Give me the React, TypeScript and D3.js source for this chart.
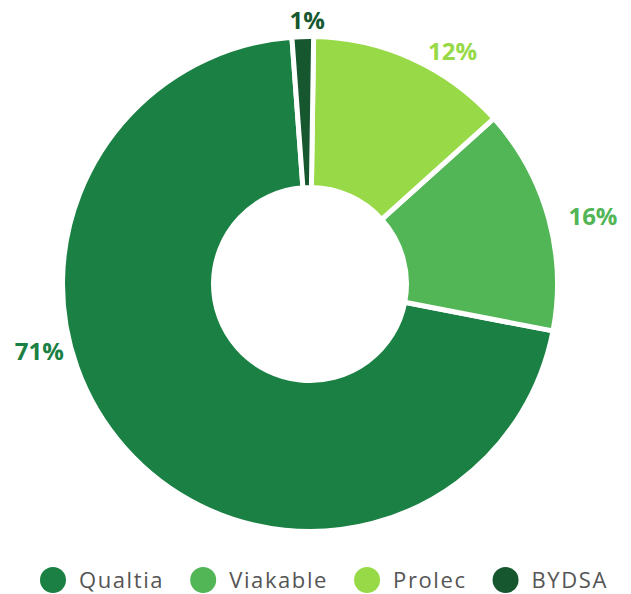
import { useEffect, useRef } from 'react';
import * as d3 from 'd3';

const categories = ['Qualtia', 'Viakable', 'Prolec', 'BYDSA'];
const shares = [70.8, 14.7, 13.1, 1.4];
const shareLabels = ['71%', '16%', '12%', '1%'];
const colors = ['#1a8043', '#52b556', '#98d947', '#17572f'];
// label spot per slice: [angle from 12 o'clock in degrees, distance from centre]
const labelSpots = [[-104, 279], [76.5, 291], [31.5, 273], [-0.6, 264]];

const W = 631;
const H = 594;

const App = () => {
    const svgRef = useRef<SVGSVGElement>(null);

    useEffect(() => {
        const root = d3.select(svgRef.current);
        root.selectAll('*').remove();

        const cx = 310, cy = 284;
        const outerR = 247.5, innerR = 96.5;
        const rad = (deg: number) => deg * Math.PI / 180;
        const start = rad(-4.2);

        const pie = d3.pie<number>()
            .sort(null)
            .value(d => d)
            .startAngle(start)
            .endAngle(start - Math.PI * 2);

        const arc = d3.arc<d3.PieArcDatum<number>>()
            .innerRadius(innerR)
            .outerRadius(outerR);

        const g = root.append('g').attr('transform', `translate(${cx},${cy})`);

        g.selectAll('path')
            .data(pie(shares))
            .enter()
            .append('path')
            .attr('d', arc)
            .attr('fill', (d, i) => colors[i])
            .attr('stroke', '#fff')
            .attr('stroke-width', 5)
            .attr('stroke-linejoin', 'miter');

        g.selectAll('text.pct')
            .data(shareLabels)
            .enter()
            .append('text')
            .attr('class', 'pct')
            .attr('x', (d, i) => Math.sin(rad(labelSpots[i][0])) * labelSpots[i][1])
            .attr('y', (d, i) => -Math.cos(rad(labelSpots[i][0])) * labelSpots[i][1])
            .attr('dy', '0.36em')
            .attr('text-anchor', 'middle')
            .attr('font-family', '"Open Sans", sans-serif')
            .attr('font-weight', 700)
            .attr('font-size', 24)
            .attr('fill', (d, i) => colors[i])
            .text(d => d);

        // legend laid out left to right, then centred
        const legendY = 580;
        const legend = root.append('g').attr('transform', `translate(0,${legendY})`);
        const dotR = 13;
        const textGap = 13;
        const itemGap = 26;
        let x = 0;
        categories.forEach((name, i) => {
            const item = legend.append('g').attr('transform', `translate(${x},0)`);
            item.append('circle').attr('cx', dotR).attr('cy', 0).attr('r', dotR).attr('fill', colors[i]);
            const t = item.append('text')
                .attr('x', dotR * 2 + textGap)
                .attr('y', 0)
                .attr('dy', '0.38em')
                .attr('font-family', '"Open Sans", sans-serif')
                .attr('font-size', 22)
                .attr('letter-spacing', 1.6)
                .attr('fill', '#555')
                .text(name);
            const tw = (t.node() as SVGTextElement).getComputedTextLength();
            x += dotR * 2 + textGap + tw + itemGap;
        });
        const total = x - itemGap;
        legend.attr('transform', `translate(${324 - total / 2},${legendY})`);
    }, []);

    return (
        <svg ref={svgRef} width={W} height={H}
            style={{ position: 'absolute', left: 0, top: 0, background: '#fff' }} />
    );
};

export default App;
